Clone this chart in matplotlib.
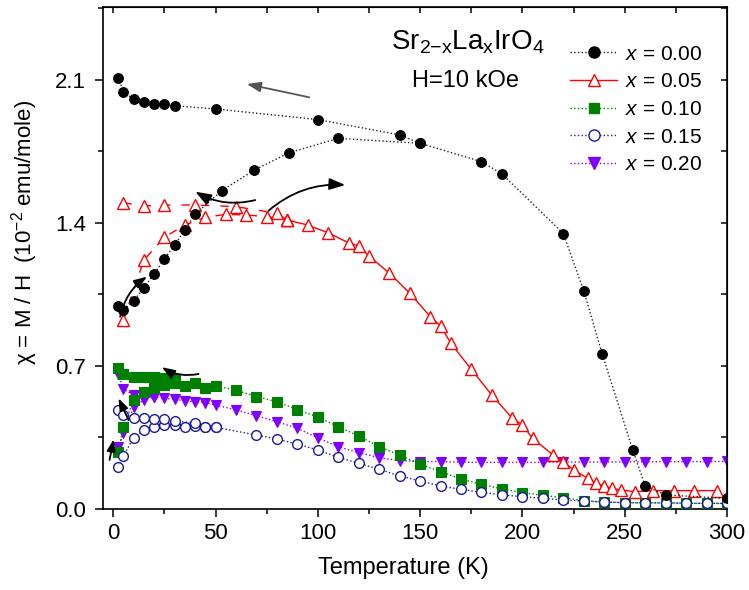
import matplotlib
matplotlib.use('Agg')
import matplotlib.pyplot as plt
from matplotlib.lines import Line2D
from matplotlib.ticker import MultipleLocator, FormatStrFormatter

plt.rcParams['font.family'] = ['Liberation Sans', 'DejaVu Sans']
plt.rcParams['mathtext.fontset'] = 'custom'
plt.rcParams['mathtext.rm'] = 'Liberation Sans'
plt.rcParams['mathtext.it'] = 'Liberation Sans:italic'
plt.rcParams['mathtext.bf'] = 'Liberation Sans:bold'

# ---------------- data ----------------
# x = 0.00
t00_zfc = [2.5, 5, 10, 15, 20, 25, 30, 35, 40, 53, 69, 86, 110, 150, 180, 190, 220, 230, 239, 254, 260, 270, 300]
c00_zfc = [0.995, 0.974, 1.018, 1.083, 1.150, 1.224, 1.292, 1.366, 1.442, 1.558, 1.659, 1.744, 1.814, 1.79,
           1.70, 1.64, 1.348, 1.067, 0.759, 0.287, 0.113, 0.069, 0.052]
t00_fc = [2.5, 5, 10, 15, 20, 25, 30, 50, 100, 140, 150]
c00_fc = [2.111, 2.041, 2.007, 1.994, 1.984, 1.981, 1.974, 1.958, 1.906, 1.831, 1.79]

# x = 0.05
t05_zfc = [5, 15, 25, 35, 45, 55, 65, 75, 85]
c05_zfc = [0.925, 1.219, 1.33, 1.39, 1.428, 1.442, 1.439, 1.431, 1.415]
t05_fc = [5, 15, 25, 40, 60, 80, 85]
c05_fc = [1.499, 1.483, 1.488, 1.488, 1.48, 1.447, 1.415]
t05_hi = [85, 95, 105, 115, 120, 125, 135, 145, 155, 160, 165, 175, 185, 195, 200, 205, 215, 220, 225,
          232, 236, 240, 244, 248, 255, 264, 274, 284, 295]
c05_hi = [1.415, 1.39, 1.352, 1.303, 1.287, 1.238, 1.154, 1.056, 0.941, 0.897, 0.811, 0.684, 0.558, 0.445,
          0.411, 0.346, 0.264, 0.232, 0.191, 0.150, 0.126, 0.113, 0.101, 0.093, 0.085, 0.09, 0.09, 0.09, 0.09]

# x = 0.10
t10_fc = [2.5, 5, 10, 15, 20, 25, 30]
c10_fc = [0.689, 0.661, 0.648, 0.648, 0.648, 0.642, 0.635]
t10_zfc = [2.5, 5, 10, 15, 20, 25, 30, 35, 40, 45, 50, 60, 70, 80, 90, 100, 110, 120, 130, 140, 150, 160,
           170, 180, 190, 200, 210, 220, 230, 240, 250, 260, 270, 280, 290, 300]
c10_zfc = [0.28, 0.403, 0.534, 0.572, 0.594, 0.607, 0.618, 0.602, 0.615, 0.594, 0.602, 0.582, 0.55, 0.525,
           0.486, 0.45, 0.403, 0.357, 0.305, 0.264, 0.219, 0.183, 0.147, 0.121, 0.098, 0.08, 0.067, 0.055,
           0.041, 0.034, 0.031, 0.03, 0.03, 0.028, 0.028, 0.027]

# x = 0.15
t15_fc = [2.5, 5, 10, 15, 20, 25, 30, 40, 45, 50]
c15_fc = [0.485, 0.46, 0.447, 0.444, 0.441, 0.439, 0.432, 0.419, 0.4, 0.4]
t15_zfc = [2.5, 5, 10, 15, 20, 25, 30, 35, 40, 45, 50, 70, 80, 90, 100, 110, 120, 130, 140, 150, 160, 170,
           180, 190, 200, 210, 220, 230, 240, 250, 260, 270, 280, 290, 300]
c15_zfc = [0.204, 0.261, 0.349, 0.387, 0.403, 0.411, 0.411, 0.403, 0.406, 0.4, 0.4, 0.362, 0.343, 0.317,
           0.289, 0.253, 0.224, 0.194, 0.162, 0.137, 0.113, 0.096, 0.082, 0.069, 0.06, 0.052, 0.044, 0.039,
           0.034, 0.031, 0.03, 0.03, 0.028, 0.028, 0.027]

# x = 0.20
t20_fc = [2.5, 5, 10, 15, 20, 25, 30, 35, 40, 45, 50, 60, 70, 80, 90, 100, 110, 120, 130, 140, 150, 160,
          170, 180, 190, 200, 210, 220, 230, 240, 250, 260, 270, 280, 290, 300]
c20_fc = [0.661, 0.586, 0.558, 0.553, 0.547, 0.542, 0.537, 0.53, 0.525, 0.52, 0.509, 0.485, 0.457, 0.427,
          0.395, 0.348, 0.305, 0.276, 0.251, 0.237, 0.232, 0.232, 0.229, 0.228, 0.228, 0.228, 0.228, 0.23,
          0.23, 0.23, 0.231, 0.231, 0.232, 0.232, 0.232, 0.233]
t20_zfc = [2.5, 5, 10, 15, 20]
c20_zfc = [0.302, 0.373, 0.499, 0.534, 0.547]

labels = ['$x$ = 0.00', '$x$ = 0.05', '$x$ = 0.10', '$x$ = 0.15', '$x$ = 0.20']

# annotation arrows: (tail, head, rad, color, scale)
arrows = [
    ((95.8, 2.015), (65.3, 2.08), 0.0, '#555555', 14),
    ((69.4, 1.512), (40.1, 1.553), -0.2, 'black', 16),
    ((75.9, 1.46), (113.4, 1.586), -0.2, 'black', 16),
    ((3.4, 0.941), (16.5, 1.137), -0.2, 'black', 13),
    ((41.7, 0.661), (23.8, 0.694), -0.2, 'black', 13),
    ((7.5, 0.435), (2.6, 0.542), 0.0, 'black', 12),
    ((-1.8, 0.24), (0.2, 0.341), 0.0, 'black', 12),
]

# ---------------- styles ----------------
c_blk, c_red, c_grn, c_blu, c_pur = 'black', '#ff0000', '#008000', '#1a1a99', '#8000ff'

fig = plt.figure(figsize=(7.49, 5.9), dpi=100)
ax = fig.add_axes([103 / 749, 81 / 590, 624 / 749, 502 / 590])

# x = 0.20
kw20 = dict(color=c_pur, ls=':', lw=1.0, marker='v', ms=7.5, mfc=c_pur, mec=c_pur, mew=0.8)
ax.plot(t20_fc, c20_fc, zorder=2, **kw20)
ax.plot(t20_zfc, c20_zfc, zorder=2, **kw20)
# x = 0.10
kw10 = dict(color=c_grn, ls=':', lw=1.0, marker='s', ms=6.5, mfc=c_grn, mec=c_grn, mew=0.8)
ax.plot(t10_zfc, c10_zfc, zorder=3, **kw10)
ax.plot(t10_fc, c10_fc, zorder=3, **kw10)
# x = 0.15
kw15 = dict(color=c_blu, ls=':', lw=1.0, marker='o', ms=7, mfc='white', mec=c_blu, mew=1.0)
ax.plot(t15_zfc, c15_zfc, zorder=4, **kw15)
ax.plot(t15_fc, c15_fc, zorder=4, **kw15)
# x = 0.05
kw05 = dict(color=c_red, lw=1.0, marker='^', ms=8, mfc='white', mec=c_red, mew=1.0)
ax.plot(t05_hi, c05_hi, ls='-', zorder=5, **kw05)
ax.plot(t05_zfc, c05_zfc, ls=(0, (6, 6)), zorder=5, **kw05)
ax.plot(t05_fc, c05_fc, ls=(0, (6, 8)), zorder=5, **kw05)
# x = 0.00
kw00 = dict(color='#222222', ls=':', lw=1.0, marker='o', ms=7, mfc=c_blk, mec=c_blk, mew=0.8)
ax.plot(t00_zfc, c00_zfc, zorder=6, **kw00)
ax.plot(t00_fc, c00_fc, zorder=6, **kw00)

for tail, head, rad, col, sc in arrows:
    ax.annotate('', xy=head, xytext=tail, zorder=7,
                arrowprops=dict(arrowstyle='-|>,head_length=0.6,head_width=0.22',
                                connectionstyle='arc3,rad=%g' % rad,
                                color=col, lw=1.3, mutation_scale=sc,
                                shrinkA=0, shrinkB=0))

ax.set_xlim(-5, 300)
ax.set_ylim(0, 2.457)
ax.xaxis.set_major_locator(MultipleLocator(50))
ax.xaxis.set_minor_locator(MultipleLocator(25))
ax.yaxis.set_major_locator(MultipleLocator(0.7))
ax.yaxis.set_minor_locator(MultipleLocator(0.35))
ax.yaxis.set_major_formatter(FormatStrFormatter('%.1f'))

for s in ax.spines.values():
    s.set_linewidth(1.2)

ax.tick_params(axis='both', which='major', direction='out', length=6, width=1.1,
               labelsize=16, top=False, right=False)
ax.tick_params(axis='both', which='minor', direction='out', length=3.5, width=1.1,
               top=False, right=False)
ax.tick_params(axis='x', which='major', pad=4)
ax.tick_params(axis='y', which='major', pad=6)

# inward ticks on top and right
axt = ax.secondary_xaxis('top')
axt.xaxis.set_major_locator(MultipleLocator(25))
axt.tick_params(direction='in', length=4, width=1.1, labeltop=False)
axr = ax.secondary_yaxis('right')
axr.yaxis.set_major_locator(MultipleLocator(0.35))
axr.tick_params(direction='in', length=4, width=1.1, labelright=False)

ax.set_xlabel('Temperature (K)', fontsize=17, va='top')
ax.xaxis.set_label_coords(0.481, -0.0966)
ax.set_ylabel('χ = M / H  (10$^{-2}$ emu/mole)', fontsize=16)
ax.yaxis.set_label_coords(-0.101, 0.55)

fig.text(468 / 749, 1 - 50 / 590, 'Sr$_{\\mathrm{2{-}x}}$La$_{\\mathrm{x}}$IrO$_{\\mathrm{4}}$',
         fontsize=20, ha='center', va='baseline')
fig.text(465 / 749, 1 - 87 / 590, 'H=10 kOe', fontsize=17, ha='center', va='baseline')

handles = [
    Line2D([], [], color='#222222', ls=':', lw=1.0, marker='o', ms=8, mfc=c_blk, mec=c_blk),
    Line2D([], [], color=c_red, ls='-', lw=1.0, marker='^', ms=9, mfc='white', mec=c_red),
    Line2D([], [], color=c_grn, ls=':', lw=1.0, marker='s', ms=7.5, mfc=c_grn, mec=c_grn),
    Line2D([], [], color=c_blu, ls=':', lw=1.0, marker='o', ms=8, mfc='white', mec=c_blu),
    Line2D([], [], color=c_pur, ls=':', lw=1.0, marker='v', ms=9, mfc=c_pur, mec=c_pur),
]
fig.legend(handles, labels, loc='upper left', bbox_to_anchor=(570 / 749, 1 - 44.5 / 590),
           frameon=False, fontsize=15, handlelength=2.26, handletextpad=0.38,
           labelspacing=0.42, borderpad=0, borderaxespad=0)

fig.savefig('out.png', dpi=100)
